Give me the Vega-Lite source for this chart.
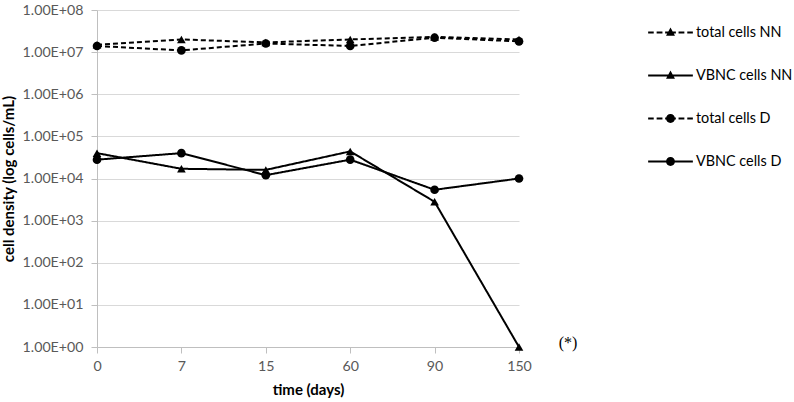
{
  "$schema": "https://vega.github.io/schema/vega-lite/v6.json",
  "autosize": "none",
  "width": 422,
  "height": 337,
  "padding": {"left": 97, "top": 10, "right": 275, "bottom": 55},
  "background": "white",
  "config": {
    "view": {"stroke": null},
    "font": "Lato",
    "axis": {
      "labelFont": "Lato",
      "labelFontSize": 14.2,
      "labelColor": "#595959",
      "titleFont": "Lato",
      "titleFontSize": 15,
      "titleFontWeight": "bold",
      "titleColor": "#000000",
      "domainColor": "#bfbfbf",
      "tickColor": "#bfbfbf",
      "gridColor": "#d9d9d9",
      "tickSize": 6
    }
  },
  "datasets": {
    "cells": [
      {"day": "0", "series": "total cells NN", "value": 15000000},
      {"day": "7", "series": "total cells NN", "value": 20000000},
      {"day": "15", "series": "total cells NN", "value": 17000000},
      {"day": "60", "series": "total cells NN", "value": 20000000},
      {"day": "90", "series": "total cells NN", "value": 23000000},
      {"day": "150", "series": "total cells NN", "value": 20000000},
      {"day": "0", "series": "VBNC cells NN", "value": 40000},
      {"day": "7", "series": "VBNC cells NN", "value": 17000},
      {"day": "15", "series": "VBNC cells NN", "value": 16000},
      {"day": "60", "series": "VBNC cells NN", "value": 44000},
      {"day": "90", "series": "VBNC cells NN", "value": 2800},
      {"day": "150", "series": "VBNC cells NN", "value": 1},
      {"day": "0", "series": "total cells D", "value": 14000000},
      {"day": "7", "series": "total cells D", "value": 11000000},
      {"day": "15", "series": "total cells D", "value": 16000000},
      {"day": "60", "series": "total cells D", "value": 14000000},
      {"day": "90", "series": "total cells D", "value": 22000000},
      {"day": "150", "series": "total cells D", "value": 18000000},
      {"day": "0", "series": "VBNC cells D", "value": 28000},
      {"day": "7", "series": "VBNC cells D", "value": 40000},
      {"day": "15", "series": "VBNC cells D", "value": 12000},
      {"day": "60", "series": "VBNC cells D", "value": 28000},
      {"day": "90", "series": "VBNC cells D", "value": 5400},
      {"day": "150", "series": "VBNC cells D", "value": 10000}
    ],
    "note": [
      {"day": "150", "value": 1, "text": "(*)"}
    ]
  },
  "encoding": {
    "x": {
      "field": "day",
      "type": "ordinal",
      "sort": ["0", "7", "15", "60", "90", "150"],
      "scale": {"type": "point", "padding": 0},
      "axis": {"title": "time (days)", "labelAngle": 0, "labelPadding": 6, "titlePadding": 9, "grid": false}
    },
    "y": {
      "field": "value",
      "type": "quantitative",
      "scale": {"type": "log", "domain": [1, 100000000], "nice": false},
      "axis": {
        "title": "cell density (log cells/mL)",
        "values": [1, 10, 100, 1000, 10000, 100000, 1000000, 10000000, 100000000],
        "labelExpr": "'1.00E+0' + round(log(datum.value) / LN10)",
        "grid": true,
        "labelPadding": 8,
        "titlePadding": 6
      }
    }
  },
  "layer": [
    {
      "data": {"name": "cells"},
      "mark": {"type": "line", "color": "black", "strokeWidth": 2},
      "encoding": {
        "detail": {"field": "series"},
        "strokeDash": {
          "field": "series",
          "type": "nominal",
          "scale": {"domain": ["total cells NN", "VBNC cells NN", "total cells D", "VBNC cells D"], "range": [[5, 3], [1, 0], [5, 3], [1, 0]]},
          "legend": null
        }
      }
    },
    {
      "data": {"name": "cells"},
      "mark": {"type": "point", "filled": true, "color": "black", "size": 75, "opacity": 1},
      "encoding": {
        "shape": {
          "field": "series",
          "type": "nominal",
          "scale": {"domain": ["total cells NN", "VBNC cells NN", "total cells D", "VBNC cells D"], "range": ["triangle-up", "triangle-up", "circle", "circle"]},
          "legend": null
        }
      }
    },
    {
      "data": {"name": "cells"},
      "mark": {"type": "point", "filled": true, "color": "black", "opacity": 0, "size": 2000},
      "encoding": {
        "shape": {
          "field": "series",
          "type": "nominal",
          "scale": {
            "domain": ["total cells NN", "VBNC cells NN", "total cells D", "VBNC cells D"],
            "range": [
              "M-1,-0.045H-0.75V0.045H-1ZM-0.62,-0.045H-0.36V0.045H-0.62ZM-0.24,-0.045H0.24V0.045H-0.24ZM0.36,-0.045H0.62V0.045H0.36ZM0.75,-0.045H1V0.045H0.75ZM0,-0.22L0.2,0.15L-0.2,0.15Z",
              "M-1,-0.045H1V0.045H-1ZM0,-0.22L0.2,0.15L-0.2,0.15Z",
              "M-1,-0.045H-0.75V0.045H-1ZM-0.62,-0.045H-0.36V0.045H-0.62ZM-0.24,-0.045H0.24V0.045H-0.24ZM0.36,-0.045H0.62V0.045H0.36ZM0.75,-0.045H1V0.045H0.75ZM0.2,0A0.2,0.2 0 1,1 -0.2,0A0.2,0.2 0 1,1 0.2,0Z",
              "M-1,-0.045H1V0.045H-1ZM0.2,0A0.2,0.2 0 1,1 -0.2,0A0.2,0.2 0 1,1 0.2,0Z"
            ]
          },
          "legend": {
            "title": null,
            "orient": "right",
            "offset": 125,
            "symbolSize": 2000,
            "symbolFillColor": "black",
            "symbolStrokeColor": "transparent",
            "symbolStrokeWidth": 0,
            "symbolOpacity": 1,
            "labelFont": "Lato",
            "labelFontSize": 14.4,
            "labelColor": "#000000",
            "labelOffset": 3,
            "rowPadding": 14,
            "encode": {
              "symbols": {
                "update": {
                  "opacity": {"value": 1},
                  "fillOpacity": {"value": 1},
                  "fill": {"value": "black"},
                  "stroke": {"value": "transparent"}
                }
              }
            }
          }
        }
      }
    },
    {
      "data": {"name": "note"},
      "mark": {"type": "text", "font": "Liberation Serif", "fontSize": 16, "dx": 49, "dy": -4, "color": "black"},
      "encoding": {"text": {"field": "text"}}
    }
  ],
  "resolve": {"scale": {"shape": "independent"}}
}
